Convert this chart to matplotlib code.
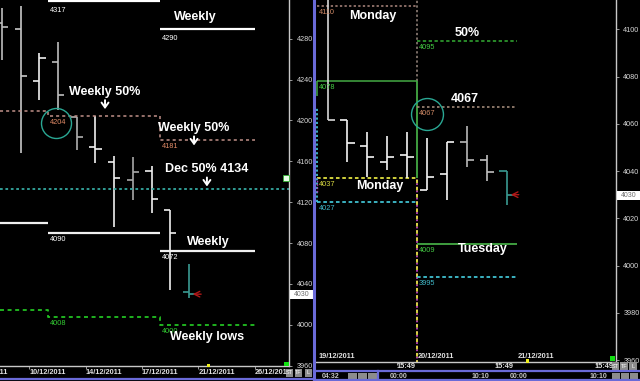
import matplotlib
matplotlib.use('Agg')
import matplotlib.pyplot as plt
from matplotlib.lines import Line2D
from matplotlib.patches import Rectangle
import numpy as np

W, H = 640, 381

# ---- left panel: 4h bars with weekly levels ----
l_open  = [4295, 4289.5, 4238.6, 4257, 4203, 4174, 4159, 4141.7, 4150.5, 4112.4, 4032.4]
l_high  = [4309.7, 4312, 4266, 4277, 4203.4, 4204.7, 4165, 4164.5, 4155.7, 4112.4, 4059.5]
l_low   = [4259.2, 4168, 4220, 4210, 4171, 4158.4, 4096, 4122, 4109.7, 4034, 4026]
l_close = [4291.7, 4243.5, 4261, 4225, 4183.5, 4172, 4143.4, 4149.3, 4123, 4089.6, 4030]
l_cols  = ['#bdbdbd', '#c8c8c8', '#f0f0f0', '#bdbdbd', '#b0b0b0', '#f0f0f0',
           '#f0f0f0', '#a8a8a8', '#f0f0f0', '#f0f0f0', '#3a9a92']

week_edges = [-0.107, 2.46, 8.45, 13.53]
week_high  = [None, 4317, 4290]
week_low   = [4100, 4090, 4072]
week_mid   = [4209.5, 4204, 4181]
week_lows  = [4014.5, 4008, 4000]
dec_mid    = 4133
l_dates    = ['07/12/2011', '10/12/2011', '14/12/2011', '17/12/2011', '21/12/2011', '26/12/2011']
l_date_pos = [-1.62, 1.46, 4.49, 7.47, 10.5, 13.53]

# ---- right panel: hourly bars, Monday / Tuesday levels ----
r_open  = [4115, 4061.6, 4050.7, 4043.7, 4046.8, 4032, 4038.6, 4052.4, 4044.7, 4040]
r_high  = [4118, 4061.6, 4056.6, 4054.8, 4056.6, 4053.9, 4052.4, 4059.1, 4046.8, 4040]
r_low   = [4061.6, 4043.9, 4037.6, 4040.4, 4037, 4032, 4027.7, 4041.8, 4035.9, 4025.6]
r_close = [4061.6, 4051.7, 4046.1, 4046.1, 4046.1, 4037.6, 4052.4, 4044.7, 4039.7, 4030]
r_cols  = ['#d8d8d8'] + ['#f4f4f4'] * 6 + ['#b8b8b8', '#c0c0c0', '#3a9a92']

day_edges = [-0.53, 4.5, 9.52]
mon_levels = [4110, 4078, 4037, 4027]
tue_levels = [4095, 4067, 4009, 3995]
r_dates    = ['19/12/2011', '20/12/2011', '21/12/2011']
r_date_pos = [-0.46, 4.51, 9.56]
r_time_pos = [3.51, 8.47, 13.49]
last_price = 4030

FAM = ['Liberation Sans', 'DejaVu Sans']
BOLD = dict(color='white', fontsize=9, fontweight='bold', family=FAM,
            ha='center', va='center')
SMALL = dict(fontsize=5.3, family=FAM)


def fx(x, y):
    return x / W, 1 - y / H


def ohlc(ax, o, h, l, c, cols, w):
    xs = np.arange(len(o))
    ax.vlines(xs, l, h, colors=cols, lw=1.2)
    ax.hlines(o, xs - w, xs, colors=cols, lw=1.2)
    ax.hlines(c, xs, xs + w, colors=cols, lw=1.2)
    return xs


def lvl_label(ax, x, y, s, col):
    ax.annotate(s, (x, y), xytext=(1.5, -2.2), textcoords='offset points',
                va='top', ha='left', color=col, **SMALL)


def style(ax, ticks):
    ax.set_facecolor('black')
    for s in ['left', 'top']:
        ax.spines[s].set_visible(False)
    for s in ['right', 'bottom']:
        ax.spines[s].set_color('#c8c8c8')
        ax.spines[s].set_linewidth(1)
    ax.yaxis.tick_right()
    ax.set_yticks(ticks)
    ax.tick_params(axis='y', colors='#b0b0b0', labelcolor='#d8d8d8',
                   labelsize=5.2, length=2, width=0.6, pad=3.5)
    for t in ax.get_yticklabels():
        t.set_family(FAM)
    ax.tick_params(axis='x', colors='#b0b0b0', length=2, width=0.6,
                   labelbottom=False)


fig = plt.figure(figsize=(6.4, 3.81), dpi=100, facecolor='black')

# ================= left panel =================
ax1 = fig.add_axes([0, 15 / H, 289 / W, 366 / H])
ax1.set_xlim(-0.107, 15.35)
ax1.set_ylim(3959.7, 4317.9)
style(ax1, np.arange(3960, 4281, 40))
ax1.set_xticks(l_date_pos[1:])

ohlc(ax1, l_open, l_high, l_low, l_close, l_cols, 0.33)

# weekly high / low (white)
for i in range(3):
    a, b = week_edges[i], week_edges[i + 1]
    if week_high[i] is not None:
        ax1.hlines(week_high[i], a, b, colors='white', lw=1.6, clip_on=False)
        lvl_label(ax1, a, week_high[i] - 3, str(week_high[i]), 'white')
    ax1.hlines(week_low[i], a, b, colors='#f0f0f0', lw=1.6)
    if i > 0:
        lvl_label(ax1, a, week_low[i], str(week_low[i]), 'white')

# weekly 50% (pink dashed step) and weekly lows (green dashed step)
ax1.step(week_edges, week_mid + [week_mid[-1]], where='post', color='#c09088',
         lw=1.1, ls=(0, (2, 2)))
ax1.step(week_edges, week_lows + [week_lows[-1]], where='post', color='#22c022',
         lw=1.3, ls=(0, (2.2, 2)))
for i in (1, 2):
    lvl_label(ax1, week_edges[i], week_mid[i], str(week_mid[i]), '#e08a66')
    lvl_label(ax1, week_edges[i], week_lows[i], str(week_lows[i]), '#33cc33')

ax1.axhline(dec_mid, color='#35a8a0', lw=1.3, ls=(0, (1.5, 1.5)))
ax1.plot([2.89], [4197.2], 'o', ms=21.6, mfc='none', mec='#2aa894', mew=1.0)

ax1.text(10.32, 4301.2, 'Weekly', **BOLD)
ax1.text(5.51, 4228.1, 'Weekly 50%', **BOLD)
ax1.text(10.27, 4192.9, 'Weekly 50%', **BOLD)
ax1.text(10.95, 4152.2, 'Dec 50% 4134', **BOLD)
ax1.text(11.02, 4081.0, 'Weekly', **BOLD)
ax1.text(10.95, 3987.8, 'Weekly lows', **BOLD)

ax1.annotate('', xy=(10.05, last_price), xytext=(10.8, last_price),
             arrowprops=dict(arrowstyle='->', color='#b01818', lw=1.0))

for d, p in zip(l_dates, l_date_pos):
    ax1.text(p, -6.7 / 366, d, transform=ax1.get_xaxis_transform(), ha='left',
             va='center', color='#e0e0e0', fontsize=5.3, fontweight='bold',
             family=FAM, clip_on=False)

# ================= right panel =================
ax2 = fig.add_axes([316 / W, 19.3 / H, 299.7 / W, 361.7 / H])
ax2.set_xlim(-0.578, 14.48)
ax2.set_ylim(3959.3, 4112.4)
style(ax2, np.arange(3960, 4101, 20))
ax2.set_xticks(r_time_pos)

a, m, b = day_edges
# Monday levels
ax2.hlines(mon_levels[0], a, m, colors='#b08a80', lw=1.1, ls=(0, (1.5, 1.5)))
ax2.vlines(m, mon_levels[1], 4112.4, colors='#9a8a80', lw=1.1, ls=(0, (1.5, 1.5)))
ax2.hlines(mon_levels[1], a, m, colors='#44aa44', lw=1.1)
ax2.vlines(a, 4071.7, mon_levels[1], colors='#44aa44', lw=1.1)
ax2.vlines(m, mon_levels[2], mon_levels[1], colors='#44aa44', lw=1.3)
ax2.hlines(mon_levels[2], a, m, colors='#e0e040', lw=1.3, ls=(0, (2, 1.5)))
ax2.vlines(m, 3959.3, mon_levels[2], colors='#c040c0', lw=1.3, ls=(0, (1, 1)))
ax2.vlines(m, 3959.3, mon_levels[2], colors='#e0e040', lw=1.3, ls=(1, (2, 2)))
ax2.hlines(mon_levels[3], a, m, colors='#40c0d0', lw=1.3, ls=(0, (2, 1.5)))
ax2.vlines(a, mon_levels[3], 4066.6, colors='#40c0d0', lw=1.3, ls=(0, (1.2, 1.2)))
ax2.vlines(a, 4031, mon_levels[2], colors='#b040b0', lw=1.0, ls=(0, (1.2, 1.2)))
lvl_label(ax2, a, mon_levels[0], str(mon_levels[0]), '#d08a66')
lvl_label(ax2, a, mon_levels[1], str(mon_levels[1]), '#44cc44')
lvl_label(ax2, a, mon_levels[2], str(mon_levels[2]), '#d8d840')
lvl_label(ax2, a, mon_levels[3], str(mon_levels[3]), '#40b8c8')

# Tuesday levels
ax2.hlines(tue_levels[0], m, b, colors='#30a030', lw=1.2, ls=(0, (2, 1.5)))
ax2.hlines(tue_levels[1], m, b, colors='#a08878', lw=1.2, ls=(0, (1.5, 1.5)))
ax2.hlines(tue_levels[2], m, b, colors='#44aa44', lw=1.3)
ax2.hlines(tue_levels[3], m, b, colors='#40c0d0', lw=1.3, ls=(0, (2, 1.5)))
lvl_label(ax2, m, tue_levels[0], str(tue_levels[0]), '#44cc44')
lvl_label(ax2, m, tue_levels[1], str(tue_levels[1]), '#d08a66')
lvl_label(ax2, m, tue_levels[2], str(tue_levels[2]), '#44cc44')
lvl_label(ax2, m, tue_levels[3], str(tue_levels[3]), '#40b8c8')

ohlc(ax2, r_open, r_high, r_low, r_close, r_cols, 0.36)
ax2.plot([4.98], [4064.1], 'o', ms=23, mfc='none', mec='#2aa894', mew=1.0)

ax2.text(2.30, 4105.6, 'Monday', **BOLD)
ax2.text(7.03, 4098.6, '50%', **BOLD)
ax2.text(6.91, 4070.4, '4067', **BOLD)
ax2.text(2.64, 4033.8, 'Monday', **BOLD)
ax2.text(7.78, 4006.9, 'Tuesday', **BOLD)

ax2.annotate('', xy=(9.07, last_price), xytext=(9.75, last_price),
             arrowprops=dict(arrowstyle='->', color='#b01818', lw=1.0))

for d, p in zip(r_dates, r_date_pos):
    ax2.text(p, 5.7 / 361.7, d, transform=ax2.get_xaxis_transform(), ha='left',
             va='center', color='#e0e0e0', fontsize=5.3, fontweight='bold',
             family=FAM)
for p in r_time_pos:
    ax2.text(p + 0.42, -4.3 / 361.7, '15:49', transform=ax2.get_xaxis_transform(),
             ha='center', va='center', color='#e0e0e0', fontsize=5.3,
             fontweight='bold', family=FAM, clip_on=False)

# white "down" arrows under the 50% notes, ~9 px tall
for x, y in [(5.51, 4215.5), (10.27, 4180.0), (10.96, 4139.8)]:
    px, py = ax1.transData.transform((x, y))
    top = ax1.transData.inverted().transform((px, py + 4.5))
    bot = ax1.transData.inverted().transform((px, py - 4.5))
    ax1.annotate('', xy=bot, xytext=top,
                 arrowprops=dict(arrowstyle='->,head_length=0.35,head_width=0.25',
                                 color='white', lw=1.4, shrinkA=0, shrinkB=0))

# ================= frame decorations (pixel space) =================
blue = '#6a6ad8'
def fline(x0, y0, x1, y1, col, lw):
    (a0, b0), (a1, b1) = fx(x0, y0), fx(x1, y1)
    fig.add_artist(Line2D([a0, a1], [b0, b1], color=col, lw=lw,
                          transform=fig.transFigure))

def frect(x0, y0, w, h, fc, ec='none', txt=None, tc='white', fs=4):
    a0, b0 = fx(x0, y0 + h)
    fig.add_artist(Rectangle((a0, b0), w / W, h / H, fc=fc, ec=ec, lw=0.6,
                             transform=fig.transFigure))
    if txt:
        fig.text(a0 + w / W / 2, b0 + h / H / 2, txt, color=tc, fontsize=fs,
                 ha='center', va='center', family=FAM)

fline(314, 0, 314, 381, blue, 2.2)
fline(0, 379, 314, 379, blue, 1.6)
fline(314, 371, 640, 371, blue, 1.6)
fline(314, 380.3, 640, 380.3, blue, 1.6)
fline(378, 371, 378, 381, blue, 1.6)

# last price boxes
frect(290, 290, 23, 9, 'white', txt=str(last_price), tc='#707070', fs=5)
frect(617, 190.5, 23, 9.5, 'white', txt=str(last_price), tc='#707070', fs=5)
# green status squares
frect(283.5, 361.5, 5, 4.5, '#10e010')
frect(610, 355.7, 5, 5.3, '#10e010')
frect(283, 175, 6, 6, '#e8ffe8', ec='#30b030')
# yellow markers on time axes
frect(206.5, 363.5, 3, 3.5, '#f0f020')
frect(525.8, 359, 3, 3.5, '#f0f020')
# ST / TF / L buttons
for x0, t in zip([286, 295, 305], ['ST', 'TF', 'L']):
    frect(x0, 369.3, 7, 7.4, '#8c8c8c', txt=t)
for x0, t in zip([611.7, 620.3, 629.3], ['ST', 'TF', 'L']):
    frect(x0, 362.3, 7.5, 7.7, '#8c8c8c', txt=t)
for x0 in [348, 358, 368]:
    frect(x0, 373, 9, 6, '#8c8c8c')
for x0 in [612, 621, 630]:
    frect(x0, 373, 8, 6, '#8c8c8c')
for x, t in zip([331, 399, 480, 519, 598], ['04:32', '00:00', '10:10', '00:00', '10:10']):
    a0, b0 = fx(x, 376.5)
    fig.text(a0, b0, t, color='#c8c8c8', fontsize=5, ha='center', va='center',
             family=FAM, fontweight='bold')

fig.savefig('out.png', dpi=100, facecolor='black')
